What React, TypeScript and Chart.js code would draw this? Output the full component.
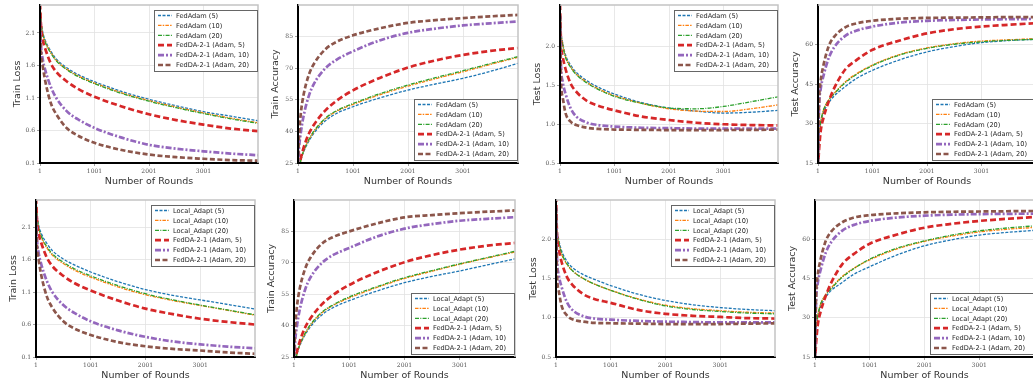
import React, { useEffect, useRef } from "react";
import { Chart, registerables } from "chart.js";
Chart.register(...registerables);

// ---------- data ----------
const rounds = [1, 20, 50, 100, 200, 300, 500, 700, 1000, 1500, 2000, 2500, 3000, 3500, 4001];
const xTicks = [1, 1001, 2001, 3001];
const xTickLabels = ["1", "1001", "2001", "3001"];

const trainLossTicks = [0.1, 0.6, 1.1, 1.6, 2.1];
const trainLossTickLabels = ["0.1", "0.6", "1.1", "1.6", "2.1"];
const trainAccTicks = [25, 40, 55, 70, 85];
const trainAccTickLabels = ["25", "40", "55", "70", "85"];
const testLossTicks = [0.5, 1.0, 1.5, 2.0];
const testLossTickLabels = ["0.5", "1.0", "1.5", "2.0"];
const testAccTicks = [15, 30, 45, 60];
const testAccTickLabels = ["15", "30", "45", "60"];

const fedAdamNames = ["FedAdam (5)", "FedAdam (10)", "FedAdam (20)"];
const localNames = ["Local_Adapt (5)", "Local_Adapt (10)", "Local_Adapt (20)"];
const fedDANames = ["FedDA-2-1 (Adam, 5)", "FedDA-2-1 (Adam, 10)", "FedDA-2-1 (Adam, 20)"];

// Panel 1: Train Loss (FedAdam)
const p1Base5 = [2.55, 2.3, 2.12, 1.98, 1.82, 1.7, 1.56, 1.46, 1.35, 1.2, 1.08, 0.98, 0.89, 0.82, 0.75];
const p1Base10 = [2.55, 2.28, 2.1, 1.96, 1.8, 1.68, 1.54, 1.44, 1.33, 1.18, 1.06, 0.96, 0.87, 0.79, 0.72];
const p1Base20 = [2.55, 2.27, 2.09, 1.95, 1.79, 1.67, 1.53, 1.43, 1.32, 1.17, 1.05, 0.95, 0.86, 0.78, 0.71];
const p1DA5 = [2.55, 2.2, 2.0, 1.85, 1.63, 1.5, 1.35, 1.24, 1.12, 0.97, 0.85, 0.76, 0.69, 0.63, 0.59];
const p1DA10 = [2.3, 1.9, 1.7, 1.52, 1.27, 1.1, 0.89, 0.77, 0.64, 0.49, 0.38, 0.32, 0.28, 0.245, 0.22];
const p1DA20 = [2.3, 1.8, 1.6, 1.35, 1.02, 0.85, 0.63, 0.52, 0.41, 0.3, 0.23, 0.19, 0.165, 0.145, 0.135];

// Panel 2: Train Accuracy (FedAdam)
const p2Base5 = [18, 22, 26, 30, 35.5, 39.5, 45, 48.5, 51.7, 56, 59.6, 62.5, 65.2, 68.5, 72.3];
const p2Base10 = [18, 22, 26, 30.5, 36, 40.2, 46, 49.5, 52.8, 57.5, 61.5, 65, 68.3, 71.8, 75.2];
const p2Base20 = [18, 22, 26, 30.5, 36.2, 40.5, 46.3, 49.8, 53.2, 58, 62, 65.5, 68.8, 72.2, 75.5];
const p2DA5 = [18, 22, 27, 32, 39, 43.5, 50, 54.5, 59.5, 65.5, 70.3, 73.7, 76.3, 78.2, 79.6];
const p2DA10 = [22, 32, 39, 47, 57, 63, 70, 74, 78, 83.3, 86.8, 88.8, 90.3, 91.3, 92.2];
const p2DA20 = [25, 38, 48, 57, 67, 72.5, 79, 82.5, 85.6, 89, 91.5, 92.8, 93.8, 94.6, 95.3];

// Panel 3: Test Loss (FedAdam)
const p3Base5 = [2.55, 2.2, 2.05, 1.9, 1.76, 1.67, 1.56, 1.48, 1.39, 1.28, 1.21, 1.17, 1.145, 1.155, 1.18];
const p3Base10 = [2.55, 2.2, 2.04, 1.88, 1.74, 1.65, 1.54, 1.46, 1.37, 1.27, 1.2, 1.17, 1.165, 1.2, 1.25];
const p3Base20 = [2.55, 2.2, 2.03, 1.87, 1.73, 1.64, 1.53, 1.45, 1.36, 1.27, 1.21, 1.2, 1.23, 1.29, 1.355];
const p3DA5 = [2.55, 2.05, 1.88, 1.72, 1.52, 1.42, 1.3, 1.24, 1.18, 1.1, 1.055, 1.02, 1.0, 0.99, 0.985];
const p3DA10 = [2.4, 1.75, 1.55, 1.4, 1.2, 1.1, 1.02, 0.99, 0.97, 0.955, 0.95, 0.945, 0.945, 0.945, 0.945];
const p3DA20 = [2.4, 1.55, 1.35, 1.15, 1.03, 0.99, 0.955, 0.94, 0.932, 0.928, 0.925, 0.924, 0.925, 0.928, 0.93];

// Panel 4: Test Accuracy (FedAdam)
const p4Base5 = [15, 24, 30, 34, 38, 40.5, 44, 47, 50.2, 54.2, 57.2, 59.2, 60.7, 61.5, 62];
const p4Base10 = [15, 25, 30.5, 35, 39, 41.5, 45.8, 48.8, 52.2, 56.2, 58.7, 60.3, 61.3, 61.8, 62.2];
const p4Base20 = [15, 25, 30.5, 35, 39, 41.3, 45.5, 48.5, 52, 56, 58.5, 60.1, 61, 61.6, 62];
const p4DA5 = [13, 20, 27, 32, 38.5, 43.5, 50.5, 54, 58, 61.5, 64.2, 65.8, 66.8, 67.5, 68.1];
const p4DA10 = [15, 36, 43, 48, 55, 59, 63.3, 65.2, 66.8, 68.3, 69, 69.3, 69.5, 69.6, 69.7];
const p4DA20 = [15, 38, 46, 52, 59.5, 63, 66.5, 68, 69, 69.8, 70.1, 70.2, 70.3, 70.4, 70.4];

// Panel 5: Train Loss (Local_Adapt)
const p5Base5 = [2.55, 2.3, 2.13, 2.0, 1.85, 1.74, 1.61, 1.52, 1.41, 1.26, 1.14, 1.05, 0.98, 0.91, 0.84];
const p5Base10 = [2.55, 2.27, 2.08, 1.94, 1.78, 1.67, 1.54, 1.44, 1.33, 1.18, 1.06, 0.97, 0.895, 0.82, 0.745];
const p5Base20 = [2.55, 2.28, 2.1, 1.96, 1.8, 1.69, 1.56, 1.46, 1.35, 1.2, 1.075, 0.98, 0.9, 0.825, 0.75];
const p5DA5 = [2.55, 2.2, 2.0, 1.85, 1.63, 1.5, 1.35, 1.24, 1.125, 0.97, 0.845, 0.76, 0.69, 0.64, 0.6];
const p5DA10 = [2.3, 1.9, 1.7, 1.52, 1.27, 1.1, 0.9, 0.78, 0.65, 0.51, 0.41, 0.34, 0.295, 0.26, 0.235];
const p5DA20 = [2.3, 1.8, 1.6, 1.35, 1.03, 0.86, 0.65, 0.54, 0.44, 0.33, 0.265, 0.225, 0.2, 0.17, 0.15];

// Panel 6: Train Accuracy (Local_Adapt)
const p6Base5 = [18, 22, 26, 30, 35.5, 39.5, 45, 48.5, 51.9, 56.5, 60.5, 63.5, 66.1, 69, 71.9];
const p6Base10 = [18, 22, 26, 30.5, 36, 40.2, 46, 49.5, 53.2, 58.2, 62.5, 66, 69.3, 72.3, 75.2];
const p6Base20 = [18, 22, 26, 30.5, 36.2, 40.5, 46.3, 49.8, 53.7, 58.6, 62.9, 66.3, 69.5, 72.5, 75.5];
const p6DA5 = [18, 22, 27, 32, 39, 43.5, 50, 54.5, 59.4, 65.5, 70.3, 73.7, 76.3, 78.2, 79.5];
const p6DA10 = [22, 32, 39, 47, 57, 63, 69.8, 73.6, 77.1, 82.5, 86.3, 88.5, 90.1, 91, 91.8];
const p6DA20 = [25, 38, 48, 57, 67, 72.5, 79, 82.2, 85, 88.8, 91.7, 92.8, 93.7, 94.4, 95];

// Panel 7: Test Loss (Local_Adapt)
const p7Base5 = [2.55, 2.15, 2.0, 1.86, 1.72, 1.64, 1.55, 1.49, 1.41, 1.3, 1.22, 1.165, 1.13, 1.105, 1.09];
const p7Base10 = [2.55, 2.12, 1.97, 1.82, 1.68, 1.6, 1.5, 1.43, 1.35, 1.24, 1.16, 1.115, 1.09, 1.07, 1.06];
const p7Base20 = [2.55, 2.12, 1.97, 1.83, 1.69, 1.6, 1.5, 1.43, 1.35, 1.235, 1.15, 1.105, 1.08, 1.06, 1.05];
const p7DA5 = [2.55, 2.05, 1.88, 1.72, 1.52, 1.42, 1.3, 1.24, 1.19, 1.1, 1.05, 1.025, 1.01, 0.995, 0.99];
const p7DA10 = [2.4, 1.75, 1.55, 1.4, 1.2, 1.1, 1.02, 0.99, 0.975, 0.96, 0.95, 0.945, 0.94, 0.94, 0.94];
const p7DA20 = [2.4, 1.55, 1.35, 1.16, 1.03, 0.98, 0.95, 0.935, 0.93, 0.925, 0.92, 0.92, 0.92, 0.925, 0.928];

// Panel 8: Test Accuracy (Local_Adapt)
const p8Base5 = [15, 24, 30, 34, 38, 40.5, 43.5, 46.5, 49.5, 54, 57.5, 59.8, 61.6, 62.6, 63.4];
const p8Base10 = [15, 25, 30.5, 35, 39, 41.5, 45.8, 48.8, 52.1, 56.3, 59.2, 61.2, 62.8, 63.8, 64.5];
const p8Base20 = [15, 25, 30.5, 35, 38.8, 41.2, 45.5, 48.6, 52.4, 56.6, 59.4, 61.6, 63.2, 64.3, 65.1];
const p8DA5 = [13, 20, 27, 32, 38.5, 43.5, 50.5, 54.2, 58.3, 61.8, 64.4, 65.9, 67, 67.8, 68.5];
const p8DA10 = [15, 36, 43, 48, 55, 59, 63.3, 65.4, 67, 68.3, 69, 69.4, 69.6, 69.7, 69.8];
const p8DA20 = [15, 38, 46, 52, 59.5, 63, 66.5, 68.2, 69.2, 69.9, 70.3, 70.5, 70.6, 70.7, 70.8];

// ---------- styles ----------
const seriesStyles = [
  { color: "#1f77b4", width: 1.3, dash: [3, 1.5] },
  { color: "#ff7f0e", width: 1.3, dash: [3.5, 1.2, 1.5, 1.2] },
  { color: "#2ca02c", width: 1.3, dash: [4, 1.3, 1, 1.3] },
  { color: "#d62728", width: 2.7, dash: [6, 3] },
  { color: "#9467bd", width: 2.7, dash: [6, 2, 2, 2] },
  { color: "#8c564b", width: 2.7, dash: [5, 2.5] },
];

type PanelCfg = {
  area: [number, number, number, number];
  yTitle: string;
  yMin: number;
  yMax: number;
  yTicks: number[];
  yLabels: string[];
  legend: "ur" | "lr";
  names: string[];
  series: number[][];
};

const panels: PanelCfg[] = [
  { area: [40, 5, 258, 163], yTitle: "Train Loss", yMin: 0.1, yMax: 2.53, yTicks: trainLossTicks, yLabels: trainLossTickLabels, legend: "ur", names: [...fedAdamNames, ...fedDANames], series: [p1Base5, p1Base10, p1Base20, p1DA5, p1DA10, p1DA20] },
  { area: [298, 5, 518, 163], yTitle: "Train Accuracy", yMin: 25, yMax: 100, yTicks: trainAccTicks, yLabels: trainAccTickLabels, legend: "lr", names: [...fedAdamNames, ...fedDANames], series: [p2Base5, p2Base10, p2Base20, p2DA5, p2DA10, p2DA20] },
  { area: [560, 5, 778, 163], yTitle: "Test Loss", yMin: 0.5, yMax: 2.54, yTicks: testLossTicks, yLabels: testLossTickLabels, legend: "ur", names: [...fedAdamNames, ...fedDANames], series: [p3Base5, p3Base10, p3Base20, p3DA5, p3DA10, p3DA20] },
  { area: [818, 5, 1036, 163], yTitle: "Test Accuracy", yMin: 15, yMax: 75, yTicks: testAccTicks, yLabels: testAccTickLabels, legend: "lr", names: [...fedAdamNames, ...fedDANames], series: [p4Base5, p4Base10, p4Base20, p4DA5, p4DA10, p4DA20] },
  { area: [36, 200, 255, 357], yTitle: "Train Loss", yMin: 0.1, yMax: 2.52, yTicks: trainLossTicks, yLabels: trainLossTickLabels, legend: "ur", names: [...localNames, ...fedDANames], series: [p5Base5, p5Base10, p5Base20, p5DA5, p5DA10, p5DA20] },
  { area: [294, 200, 515, 357], yTitle: "Train Accuracy", yMin: 25, yMax: 100, yTicks: trainAccTicks, yLabels: trainAccTickLabels, legend: "lr", names: [...localNames, ...fedDANames], series: [p6Base5, p6Base10, p6Base20, p6DA5, p6DA10, p6DA20] },
  { area: [556, 200, 775, 357], yTitle: "Test Loss", yMin: 0.5, yMax: 2.5, yTicks: testLossTicks, yLabels: testLossTickLabels, legend: "ur", names: [...localNames, ...fedDANames], series: [p7Base5, p7Base10, p7Base20, p7DA5, p7DA10, p7DA20] },
  { area: [815, 200, 1034, 357], yTitle: "Test Accuracy", yMin: 15, yMax: 75, yTicks: testAccTicks, yLabels: testAccTickLabels, legend: "lr", names: [...localNames, ...fedDANames], series: [p8Base5, p8Base10, p8Base20, p8DA5, p8DA10, p8DA20] },
];

const AXIS_W = 40;
const AXIS_H = 30;
const PAD_TOP = 5;
const PAD_RIGHT = 2;

const framePlugin = {
  id: "frameLegend",
  afterDraw(chart: any, _args: any, opts: any) {
    const { ctx, chartArea: a } = chart;
    ctx.save();
    // top / right spines
    ctx.strokeStyle = "#c4c4c4";
    ctx.lineWidth = 1.5;
    ctx.beginPath();
    ctx.moveTo(a.left, a.top);
    ctx.lineTo(a.right, a.top);
    ctx.lineTo(a.right, a.bottom);
    ctx.stroke();
    // legend
    const w = 103;
    const h = 61;
    const x0 = Math.round(a.right - 1.5 - w);
    const y0 = Math.round(opts.corner === "ur" ? a.top + 5 : a.bottom - 3 - h);
    ctx.fillStyle = "#ffffff";
    ctx.fillRect(x0, y0, w, h);
    ctx.strokeStyle = "#666";
    ctx.lineWidth = 1;
    ctx.strokeRect(x0 + 0.5, y0 + 0.5, w, h);
    ctx.font = '6.6px "DejaVu Sans"';
    ctx.textBaseline = "middle";
    ctx.textAlign = "left";
    chart.data.datasets.forEach((ds: any, i: number) => {
      const y = y0 + 5.5 + i * 9.9;
      ctx.strokeStyle = ds.borderColor;
      ctx.lineWidth = ds.borderWidth;
      ctx.setLineDash(ds.borderDash);
      ctx.beginPath();
      ctx.moveTo(x0 + 4, y);
      ctx.lineTo(x0 + 18, y);
      ctx.stroke();
      ctx.setLineDash([]);
      ctx.fillStyle = "#262626";
      ctx.fillText(ds.label, x0 + 22, y + 0.5);
    });
    ctx.restore();
  },
};

function Panel({ cfg }: { cfg: PanelCfg }) {
  const ref = useRef<HTMLCanvasElement | null>(null);
  const [l, t, r, b] = cfg.area;
  const cw = r - l + AXIS_W + PAD_RIGHT;
  const ch = b - t + AXIS_H + PAD_TOP;
  useEffect(() => {
    if (!ref.current) return;
    const n = cfg.series.length;
    const chart = new Chart(ref.current, {
      type: "line",
      data: {
        datasets: cfg.series.map((vals, i) => ({
          label: cfg.names[i],
          data: rounds.map((x, k) => ({ x, y: vals[k] })),
          borderColor: seriesStyles[i].color,
          borderWidth: seriesStyles[i].width,
          borderDash: seriesStyles[i].dash,
          pointRadius: 0,
          fill: false,
          cubicInterpolationMode: "monotone",
          clip: 0,
          order: n - i,
        })),
      },
      options: {
        animation: false,
        responsive: false,
        devicePixelRatio: 1,
        events: [],
        layout: { padding: { top: PAD_TOP, right: PAD_RIGHT, left: 0, bottom: 0 } },
        plugins: {
          legend: { display: false },
          tooltip: { enabled: false },
          frameLegend: { corner: cfg.legend },
        } as any,
        scales: {
          x: {
            type: "linear",
            min: 1,
            max: 4001,
            bounds: "data",
            afterBuildTicks: (s: any) => {
              s.ticks = xTicks.map((v) => ({ value: v }));
            },
            afterFit: (s: any) => {
              s.height = AXIS_H;
              s.paddingLeft = 0;
              s.paddingRight = 0;
              s.paddingTop = 0;
              s.paddingBottom = 0;
            },
            ticks: {
              autoSkip: false,
              maxRotation: 0,
              padding: 2,
              color: "#555",
              font: { family: "DejaVu Serif", size: 6 },
              callback: (_v: any, i: number) => xTickLabels[i],
            },
            grid: { color: "#e2e2e2", lineWidth: 0.8, drawTicks: true, tickLength: 3, tickColor: "#888" },
            border: { display: true, color: "#000", width: 2, z: 1 },
            title: {
              display: true,
              text: "Number of Rounds",
              color: "#333",
              font: { family: "DejaVu Sans", size: 9.5 },
              padding: { top: 0, bottom: 6 },
            },
          },
          y: {
            type: "linear",
            min: cfg.yMin,
            max: cfg.yMax,
            bounds: "data",
            afterBuildTicks: (s: any) => {
              s.ticks = cfg.yTicks.map((v) => ({ value: v }));
            },
            afterFit: (s: any) => {
              s.width = AXIS_W;
              s.paddingLeft = 0;
              s.paddingRight = 0;
              s.paddingTop = 0;
              s.paddingBottom = 0;
            },
            ticks: {
              autoSkip: false,
              padding: 2,
              color: "#555",
              font: { family: "DejaVu Serif", size: 6 },
              callback: (_v: any, i: number) => cfg.yLabels[i],
            },
            grid: { color: "#e2e2e2", lineWidth: 0.8, drawTicks: true, tickLength: 3, tickColor: "#888" },
            border: { display: true, color: "#000", width: 2, z: 1 },
            title: {
              display: true,
              text: cfg.yTitle,
              color: "#333",
              font: { family: "DejaVu Sans", size: 9.5 },
              padding: { top: 12, bottom: 0 },
            },
          },
        },
      } as any,
      plugins: [framePlugin],
    });
    return () => chart.destroy();
  }, [cfg]);
  return (
    <canvas
      ref={ref}
      width={cw}
      height={ch}
      style={{ position: "absolute", left: l - AXIS_W, top: t - PAD_TOP, width: cw, height: ch }}
    />
  );
}

export default function App() {
  return (
    <div
      style={{
        position: "absolute",
        left: 0,
        top: 0,
        width: 1033,
        height: 385,
        overflow: "hidden",
        background: "#fff",
      }}
    >
      {panels.map((p, i) => (
        <Panel key={i} cfg={p} />
      ))}
    </div>
  );
}
